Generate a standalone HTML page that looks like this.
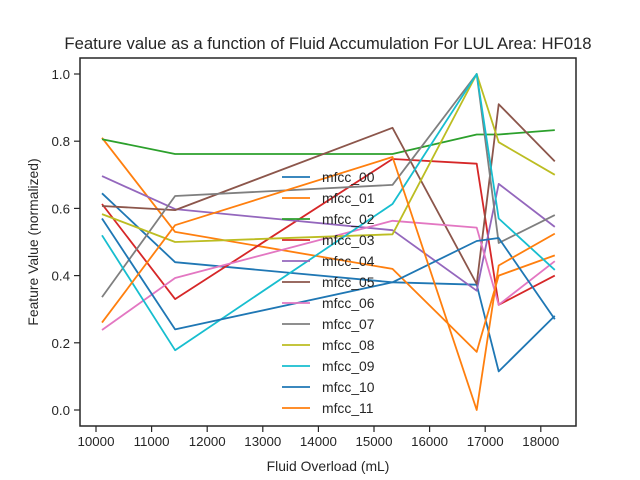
<!DOCTYPE html>
<html><head><meta charset="utf-8"><style>
body{margin:0;background:#fff;}
svg{font-family:"Liberation Sans",sans-serif;display:block}
</style></head><body>
<svg id="chart" width="640" height="480">
<rect width="640" height="480" fill="#fff"/>
<text x="328" y="49" text-anchor="middle" font-size="16.7" fill="#262626">Feature value as a function of Fluid Accumulation For LUL Area: HF018</text>
<g id="plot"></g>
</svg>
<script>
const xValues = [10108, 11423, 15333, 16847, 17243, 18252];
const seriesNames = ["mfcc_00","mfcc_01","mfcc_02","mfcc_03","mfcc_04","mfcc_05","mfcc_06","mfcc_07","mfcc_08","mfcc_09","mfcc_10","mfcc_11"];
const mfcc00 = [0.645, 0.44, 0.38, 0.373, 0.115, 0.28];
const mfcc01 = [0.81, 0.53, 0.42, 0.173, 0.40, 0.46];
const mfcc02 = [0.806, 0.762, 0.762, 0.82, 0.82, 0.833];
const mfcc03 = [0.613, 0.33, 0.747, 0.733, 0.313, 0.40];
const mfcc04 = [0.696, 0.598, 0.535, 0.355, 0.673, 0.545];
const mfcc05 = [0.607, 0.595, 0.84, 0.375, 0.91, 0.74];
const mfcc06 = [0.238, 0.393, 0.563, 0.543, 0.313, 0.443];
const mfcc07 = [0.336, 0.637, 0.67, 1.0, 0.497, 0.58];
const mfcc08 = [0.583, 0.50, 0.523, 1.0, 0.797, 0.70];
const mfcc09 = [0.52, 0.178, 0.613, 1.0, 0.57, 0.417];
const mfcc10 = [0.57, 0.24, 0.38, 0.503, 0.512, 0.27];
const mfcc11 = [0.26, 0.55, 0.753, 0.0, 0.43, 0.525];
const xTicks = [10000,11000,12000,13000,14000,15000,16000,17000,18000];
const yTicks = [0.0,0.2,0.4,0.6,0.8,1.0];

const allSeries = [mfcc00,mfcc01,mfcc02,mfcc03,mfcc04,mfcc05,mfcc06,mfcc07,mfcc08,mfcc09,mfcc10,mfcc11];
const colors = ["#1f77b4","#ff7f0e","#2ca02c","#d62728","#9467bd","#8c564b","#e377c2","#7f7f7f","#bcbd22","#17becf","#1f77b4","#ff7f0e"];
const L=80,R=576,T=58,B=426;
const xs = v => 96 + (v-10000)/1000*55.6;
const ys = v => 410 - v*336;
const NS="http://www.w3.org/2000/svg";
const g=document.getElementById('plot');
function mk(tag,attrs,parent){const e=document.createElementNS(NS,tag);for(const k in attrs)e.setAttribute(k,attrs[k]);(parent||g).appendChild(e);return e;}

xTicks.forEach(t=>{
  const x=xs(t);
  const tk=mk('line',{x1:x,x2:x,y1:B,y2:B+6,stroke:'#262626','stroke-width':1.2});
  
  
  const lb=mk('text',{x:x,y:B+20,'text-anchor':'middle','font-size':13.3,fill:'#262626'});
  lb.textContent=t;
  
  
});
yTicks.forEach(t=>{
  const y=ys(t);
  const tk=mk('line',{x1:L-6,x2:L,y1:y,y2:y,stroke:'#262626','stroke-width':1.2});
  
  
  const lb=mk('text',{x:L-10,y:y+5,'text-anchor':'end','font-size':13.3,fill:'#262626'});
  lb.textContent=t.toFixed(1);
  
  
});

allSeries.forEach((s,i)=>{
  const pts=s.map((v,j)=>xs(xValues[j]).toFixed(1)+','+ys(v).toFixed(1)).join(' ');
  const p=mk('polyline',{points:pts,fill:'none',stroke:colors[i],'stroke-width':1.8,'stroke-linejoin':'round'});
  
  
});

const fr=mk('rect',{x:L,y:T,width:R-L,height:B-T,fill:'none',stroke:'#262626','stroke-width':1.5});



seriesNames.forEach((n,i)=>{
  const y=177+i*21;
  const ln=mk('line',{x1:282,x2:310,y1:y,y2:y,stroke:colors[i],'stroke-width':1.8});
  
  
  const tx=mk('text',{x:322,y:y+5,'font-size':13.9,fill:'#262626'});
  tx.textContent=n;
  
  
});

const xl=mk('text',{x:328,y:471,'text-anchor':'middle','font-size':13.9,fill:'#262626'});
xl.textContent='Fluid Overload (mL)';


const yl=mk('text',{x:38,y:242,'text-anchor':'middle','font-size':13.9,fill:'#262626',transform:'rotate(-90 38 242)'});
yl.textContent='Feature Value (normalized)';


</script>
</body></html>
